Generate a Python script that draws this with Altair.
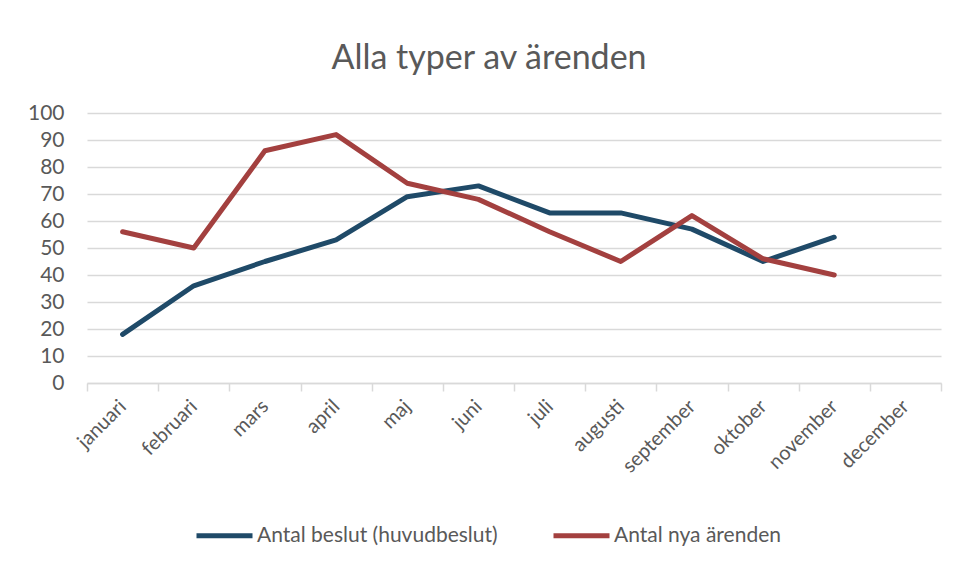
import altair as alt
import pandas as pd

months = ["januari", "februari", "mars", "april", "maj", "juni", "juli",
          "augusti", "september", "oktober", "november", "december"]
series_names = ["Antal beslut (huvudbeslut)", "Antal nya ärenden"]
beslut = [18, 36, 45, 53, 69, 73, 63, 63, 57, 45, 54]
nya = [56, 50, 86, 92, 74, 68, 56, 45, 62, 46, 40]
y_ticks = [0, 10, 20, 30, 40, 50, 60, 70, 80, 90, 100]
colors = ["#1f4a68", "#a3403f"]

rows = []
for name, vals in zip(series_names, [beslut, nya]):
    for m, v in zip(months, vals):
        rows.append({"Månad": m, "Serie": name, "Värde": v})
df = pd.DataFrame(rows)

FONT = "Lato"
GRAY = "#595959"

chart = alt.Chart(df).mark_line(strokeWidth=5, strokeCap="round", strokeJoin="round").encode(
    x=alt.X("Månad:N", sort=months,
            scale=alt.Scale(domain=months, paddingInner=0, paddingOuter=0),
            axis=alt.Axis(title=None, labelAngle=-45, labelAlign="right", labelBaseline="middle",
                          labelPadding=12, labelFontSize=20, labelColor=GRAY, labelFont=FONT,
                          tickBand="extent", ticks=True, tickSize=8, tickColor="#d9d9d9", tickWidth=1.5,
                          domainColor="#d9d9d9", domainWidth=1.5, grid=False)),
    y=alt.Y("Värde:Q", scale=alt.Scale(domain=[0, 100], nice=False),
            axis=alt.Axis(title=None, values=y_ticks, labelFontSize=21, labelColor=GRAY, labelFont=FONT,
                          labelPadding=23, ticks=False, domain=False,
                          gridColor="#d9d9d9", gridWidth=1.5)),
    color=alt.Color("Serie:N", scale=alt.Scale(domain=series_names, range=colors),
                    legend=alt.Legend(title=None, orient="none", direction="horizontal",
                                      legendX=107, legendY=392,
                                      symbolType="stroke", symbolStrokeWidth=5, symbolSize=3136,
                                      labelFontSize=21, labelColor=GRAY, labelFont=FONT,
                                      labelLimit=400, columnPadding=45, labelOffset=2)),
).properties(
    width=854,
    height=270,
    title=alt.TitleParams("Alla typer av ärenden", fontSize=34, font=FONT, color=GRAY,
                          fontWeight="normal", anchor="middle", dx=-25, offset=26),
    autosize=alt.AutoSizeParams(type="none"),
    padding={"left": 79, "top": 105, "right": 8, "bottom": 174},
).configure_view(stroke=None)

chart.save("out.html", embed_options={"renderer": "svg", "actions": False})
